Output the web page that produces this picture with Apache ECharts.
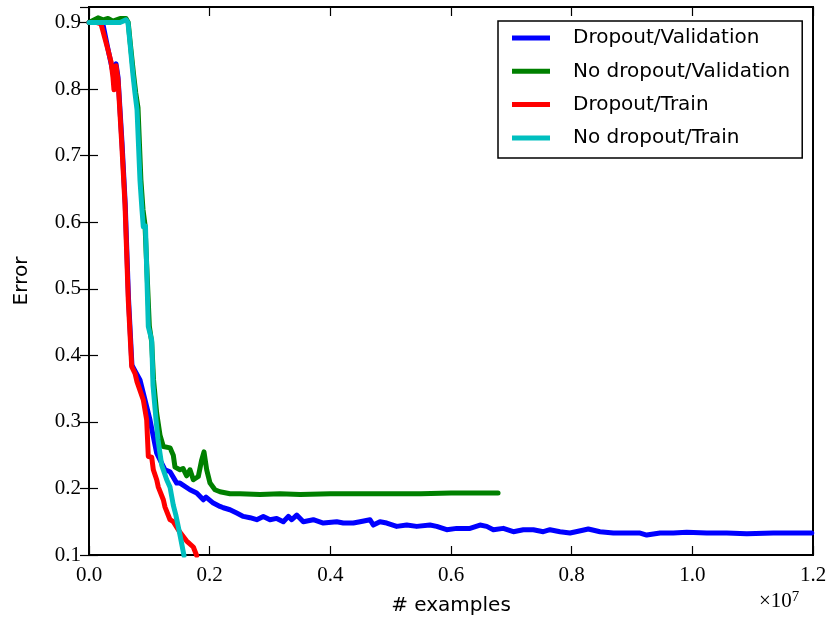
<!DOCTYPE html>
<html>
<head>
<meta charset="utf-8">
<script src="https://cdn.jsdelivr.net/npm/echarts@6/dist/echarts.min.js"></script>
<style>html,body{margin:0;padding:0;background:#fff;}#chart{width:830px;height:623px;}</style>
</head>
<body>
<div id="chart"></div>
<script>
// x values in units of 1e7 examples
const seriesNames = ['Dropout/Validation', 'No dropout/Validation', 'Dropout/Train', 'No dropout/Train'];
const xTicks = ['0.0','0.2','0.4','0.6','0.8','1.0','1.2'];
const yTicks = ['0.1','0.2','0.3','0.4','0.5','0.6','0.7','0.8','0.9'];

const dropoutValidation = [
  [0,0.900],[0.0182,0.900],[0.0232,0.897],[0.0315,0.860],[0.0398,0.825],[0.0448,0.838],[0.0481,0.818],
  [0.0547,0.720],[0.0600,0.628],[0.0655,0.485],[0.0712,0.385],[0.0765,0.376],[0.0845,0.363],
  [0.0956,0.323],[0.1011,0.303],[0.1066,0.278],[0.1122,0.253],[0.1177,0.243],[0.1260,0.228],
  [0.1343,0.225],[0.1454,0.208],[0.1508,0.208],[0.1674,0.198],[0.1785,0.193],[0.1895,0.183],
  [0.1940,0.187],[0.2060,0.178],[0.2171,0.173],[0.2226,0.171],[0.2337,0.168],[0.2448,0.163],
  [0.2558,0.158],[0.2669,0.156],[0.2780,0.153],[0.2889,0.158],[0.3000,0.153],[0.3111,0.155],
  [0.3221,0.150],[0.3304,0.158],[0.3360,0.153],[0.3443,0.160],[0.3552,0.150],[0.3718,0.153],
  [0.3884,0.148],[0.4106,0.150],[0.4215,0.148],[0.4381,0.148],[0.4492,0.150],[0.4658,0.153],
  [0.4712,0.145],[0.4823,0.150],[0.4935,0.148],[0.5100,0.143],[0.5266,0.145],[0.5432,0.143],
  [0.5652,0.145],[0.5763,0.143],[0.5929,0.138],[0.6095,0.140],[0.6315,0.140],[0.6481,0.145],
  [0.6592,0.143],[0.6702,0.138],[0.6867,0.140],[0.7033,0.135],[0.7199,0.138],[0.7365,0.138],
  [0.7530,0.135],[0.7641,0.138],[0.7807,0.135],[0.7973,0.133],[0.8127,0.136],[0.8276,0.139],
  [0.8470,0.135],[0.8691,0.133],[0.8913,0.133],[0.9134,0.133],[0.9244,0.130],[0.9465,0.133],
  [0.9685,0.133],[0.9907,0.134],[1.0239,0.133],[1.0570,0.133],[1.0902,0.132],[1.1343,0.133],
  [1.1674,0.133],[1.1980,0.133]
];

const noDropoutValidation = [
  [0,0.900],[0.0149,0.907],[0.0232,0.904],[0.0315,0.906],[0.0399,0.902],[0.0514,0.906],[0.0613,0.906],
  [0.0650,0.900],[0.0685,0.868],[0.0740,0.821],[0.0775,0.794],[0.0812,0.772],[0.0860,0.664],
  [0.0895,0.619],[0.0928,0.596],[0.0960,0.595],[0.1000,0.444],[0.1039,0.420],[0.1070,0.363],
  [0.1122,0.313],[0.1177,0.280],[0.1232,0.263],[0.1343,0.261],[0.1397,0.250],[0.1425,0.232],
  [0.1508,0.228],[0.1558,0.230],[0.1619,0.219],[0.1674,0.228],[0.1729,0.213],[0.1812,0.218],
  [0.1868,0.243],[0.1906,0.255],[0.1951,0.228],[0.2006,0.208],[0.2088,0.198],[0.2171,0.195],
  [0.2337,0.192],[0.2503,0.192],[0.2835,0.191],[0.3166,0.192],[0.3500,0.191],[0.4000,0.192],
  [0.4500,0.192],[0.5000,0.192],[0.5500,0.192],[0.6000,0.193],[0.6500,0.193],[0.6780,0.193]
];

const dropoutTrain = [
  [0,0.900],[0.0133,0.900],[0.0199,0.898],[0.0249,0.881],[0.0315,0.859],[0.0365,0.841],[0.0398,0.817],
  [0.0414,0.799],[0.0448,0.835],[0.0481,0.814],[0.0542,0.719],[0.0597,0.626],[0.0651,0.483],
  [0.0708,0.383],[0.0762,0.373],[0.0796,0.360],[0.0900,0.333],[0.0956,0.303],[0.0983,0.248],
  [0.1039,0.247],[0.1066,0.228],[0.1122,0.213],[0.1149,0.202],[0.1232,0.183],[0.1260,0.172],
  [0.1343,0.153],[0.1397,0.150],[0.1508,0.134],[0.1619,0.121],[0.1729,0.112],[0.1785,0.099]
];

const noDropoutTrain = [
  [0,0.900],[0.0182,0.900],[0.0514,0.900],[0.0613,0.904],[0.0646,0.900],[0.0680,0.869],[0.0729,0.821],
  [0.0762,0.794],[0.0796,0.769],[0.0845,0.663],[0.0879,0.618],[0.0900,0.593],[0.0936,0.594],
  [0.0983,0.443],[0.1039,0.423],[0.1061,0.355],[0.1111,0.303],[0.1144,0.273],[0.1205,0.235],
  [0.1288,0.213],[0.1343,0.202],[0.1397,0.175],[0.1442,0.159],[0.1508,0.130],[0.1575,0.099]
];

const colors = ['#0000ff', '#008000', '#ff0000', '#00bfbf'];
const allData = [dropoutValidation, noDropoutValidation, dropoutTrain, noDropoutTrain];

const chart = echarts.init(document.getElementById('chart'), null, {renderer: 'canvas'});
const serifFont = 'Liberation Serif';
const sansFont = 'DejaVu Sans';

function fmtFrom(list) {
  return function (v) {
    const r = Math.round(v * 10);
    if (Math.abs(v * 10 - r) > 1e-6) return '';
    const s = (r / 10).toFixed(1);
    return list.indexOf(s) >= 0 ? s : '';
  };
}

const tickStyle = {show: true, inside: true, length: 9, lineStyle: {color: '#000', width: 1.2}};
const axisLineStyle = {show: true, lineStyle: {color: '#000', width: 2}};

chart.setOption({
  animation: false,
  backgroundColor: '#fff',
  grid: {left: 89, top: 7, width: 724, height: 548, show: true, borderColor: '#000', borderWidth: 2, backgroundColor: 'transparent'},
  legend: {
    orient: 'vertical',
    left: 498,
    top: 21,
    padding: [7, 12, 10, 14],
    itemGap: 13.3,
    itemWidth: 38,
    itemHeight: 5,
    icon: 'rect',
    borderColor: '#000',
    borderWidth: 1.5,
    borderRadius: 0,
    backgroundColor: '#fff',
    textStyle: {fontFamily: sansFont, fontSize: 20, color: '#000', lineHeight: 20, padding: [0, 0, 0, 18]},
    data: seriesNames
  },
  xAxis: [{
    type: 'value', min: 0, max: 1.2, interval: 0.2,
    axisLine: axisLineStyle, axisTick: tickStyle, splitLine: {show: false},
    axisLabel: {formatter: fmtFrom(xTicks), fontFamily: serifFont, fontSize: 21, color: '#000', margin: 10},
    name: '# examples', nameLocation: 'middle', nameGap: 41,
    nameTextStyle: {fontFamily: sansFont, fontSize: 20, color: '#000'}
  }, {
    type: 'value', min: 0, max: 1.2, interval: 0.2, position: 'top',
    axisLine: axisLineStyle, axisTick: tickStyle, splitLine: {show: false}, axisLabel: {show: false}
  }],
  yAxis: [{
    type: 'value', min: 0.1, max: 0.9233, interval: 0.1,
    axisLine: axisLineStyle, axisTick: tickStyle, splitLine: {show: false},
    axisLabel: {formatter: fmtFrom(yTicks), fontFamily: serifFont, fontSize: 21, color: '#000', margin: 8, showMaxLabel: false},
    name: 'Error', nameLocation: 'middle', nameGap: 57, nameRotate: 90,
    nameTextStyle: {fontFamily: sansFont, fontSize: 20, color: '#000'}
  }, {
    type: 'value', min: 0.1, max: 0.9233, interval: 0.1, position: 'right',
    axisLine: axisLineStyle, axisTick: tickStyle, splitLine: {show: false}, axisLabel: {show: false}
  }],
  graphic: [{
    type: 'text', left: 759, top: 590,
    style: {
      text: '×10{s|7}',
      fontFamily: serifFont, fontSize: 21, fill: '#000',
      rich: {s: {fontFamily: serifFont, fontSize: 15, fill: '#000', verticalAlign: 'top', padding: [0, 0, 8, 0]}}
    }
  }],
  series: allData.map((d, i) => ({
    name: seriesNames[i],
    type: 'line',
    data: d,
    showSymbol: false,
    symbol: 'none',
    clip: true,
    lineStyle: {color: colors[i], width: 5, join: 'round', cap: 'round'},
    itemStyle: {color: colors[i]}
  }))
});
</script>
</body>
</html>
